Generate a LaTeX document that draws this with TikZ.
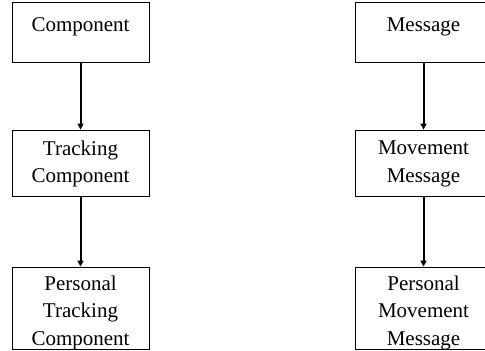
\documentclass[tikz,border=0pt]{standalone}
\usepackage{fontspec}
\setmainfont{Liberation Serif}
\usetikzlibrary{arrows.meta,positioning}

\begin{document}
\begin{tikzpicture}[
  x=1pt,
  y=1pt,
  every node/.style={font=\fontsize{21}{27.5}\selectfont, align=center, inner sep=0pt},
  frame/.style={draw, line width=0.8pt, minimum width=137pt},
  boxtext/.style={anchor=north},
  link/.style={-{Triangle[length=6pt,width=6pt]}, line width=2pt}
]
  \useasboundingbox (0,0) rectangle (485,-351);

  % Component hierarchy.
  \node[frame, minimum height=60pt] (comp) at (80.5,-32) {};
  \node[frame, minimum height=66pt] (track) at (80.5,-163) {};
  \node[frame, minimum height=82pt] (ptrack) at (80.5,-308) {};
  \node[boxtext, below=16pt of comp.north] (compText) {Component};
  \node[boxtext, below=11pt of track.north] (trackText) {Tracking\\Component};
  \node[boxtext, below=9pt of ptrack.north] (ptrackText) {Personal\\Tracking\\Component};

  % Message hierarchy.
  \node[frame, minimum height=60pt] (msg) at (423.5,-32) {};
  \node[frame, minimum height=66pt] (move) at (423.5,-163) {};
  \node[frame, minimum height=82pt] (pmove) at (423.5,-308) {};
  \node[boxtext, below=16pt of msg.north] (msgText) {Message};
  \node[boxtext, below=11pt of move.north] (moveText) {Movement\\Message};
  \node[boxtext, below=9pt of pmove.north] (pmoveText) {Personal\\Movement\\Message};

  % Arrows.
  \draw[link] (comp) -- (track);
  \draw[link] (track) -- (ptrack);
  \draw[link] (msg) -- (move);
  \draw[link] (move) -- (pmove);
\end{tikzpicture}
\end{document}
